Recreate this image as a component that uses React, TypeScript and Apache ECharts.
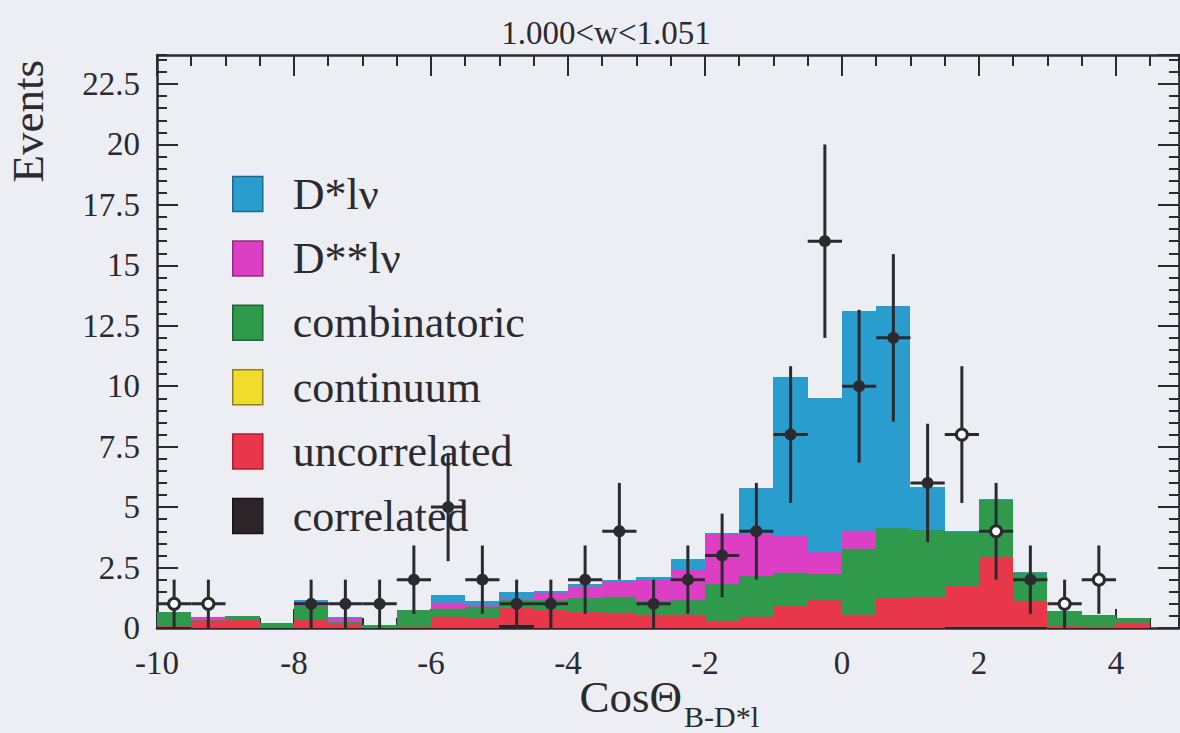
import React, { useEffect, useRef } from "react";
import * as echarts from "echarts";

// Histogram binning: 29 bins of width 0.5 from -10 to 4.5
const BIN_WIDTH = 0.5;
const BIN_CENTERS = [
  -9.75, -9.25, -8.75, -8.25, -7.75, -7.25, -6.75, -6.25, -5.75, -5.25,
  -4.75, -4.25, -3.75, -3.25, -2.75, -2.25, -1.75, -1.25, -0.75, -0.25,
  0.25, 0.75, 1.25, 1.75, 2.25, 2.75, 3.25, 3.75, 4.25,
];

// Stacked components (bottom to top)
const CORRELATED = [
  0.03, 0, 0, 0, 0, 0, 0, 0, 0, 0,
  0.12, 0, 0, 0, 0, 0, 0, 0, 0, 0,
  0, 0, 0, 0.03, 0.03, 0.03, 0, 0, 0,
];
const UNCORRELATED = [
  0.05, 0.3, 0.35, 0, 0.35, 0.15, 0, 0.05, 0.45, 0.4,
  0.7, 0.75, 0.65, 0.6, 0.55, 0.55, 0.3, 0.45, 0.9, 1.15,
  0.55, 1.25, 1.3, 1.7, 2.9, 1.1, 0.1, 0.05, 0.2,
];
const CONTINUUM = [
  0, 0, 0, 0, 0, 0, 0, 0, 0, 0,
  0, 0, 0, 0, 0, 0, 0, 0, 0, 0,
  0, 0, 0, 0, 0, 0, 0, 0, 0,
];
const COMBINATORIC = [
  0.6, 0.05, 0.15, 0.2, 0.55, 0.1, 0.12, 0.7, 0.35, 0.45,
  0.35, 0.4, 0.6, 0.7, 0.55, 0.6, 1.5, 1.7, 1.37, 1.1,
  2.7, 2.9, 2.75, 2.25, 2.35, 1.15, 0.6, 0.5, 0.2,
];
const DSS_LNU = [
  0, 0.1, 0, 0, 0.05, 0.15, 0, 0, 0.25, 0.1,
  0.05, 0.3, 0.45, 0.6, 0.9, 1.25, 2.1, 1.75, 1.52, 0.9,
  0.75, 0, 0, 0, 0, 0, 0, 0, 0,
];
const DS_LNU = [
  0, 0, 0, 0, 0.2, 0.05, 0, 0, 0.3, 0.15,
  0.25, 0.1, 0.1, 0.1, 0.1, 0.45, 0.05, 1.9, 6.61, 6.35,
  9.1, 9.15, 1.8, 0.05, 0.05, 0.05, 0, 0, 0,
];

// Data points (event counts); open markers drawn separately
const FILLED_X = [
  -7.75, -7.25, -6.75, -6.25, -5.75, -5.25, -4.75, -4.25, -3.75, -3.25,
  -2.75, -2.25, -1.75, -1.25, -0.75, -0.25, 0.25, 0.75, 1.25, 2.75,
];
const FILLED_N = [1, 1, 1, 2, 5, 2, 1, 1, 2, 4, 1, 2, 3, 4, 8, 16, 10, 12, 6, 2];
const OPEN_X = [-9.75, -9.25, 1.75, 2.25, 3.25, 3.75];
const OPEN_N = [1, 1, 8, 4, 1, 2];

// Axis ranges and titles
const X_MIN = -10;
const X_MAX = 4.92;
const Y_MIN = 0;
const Y_MAX = 23.7;

const TITLE = "1.000<w<1.051";
const Y_TITLE = "Events";
const X_TITLE = "CosΘ";
const X_TITLE_SUB = "B-D*l";

const FONT = '"Liberation Serif", "DejaVu Serif", serif';
const INK = "#2b2a2e";
const BG = "#eceef4";

const COMPONENTS = [
  { name: "correlated", values: CORRELATED, color: "#2c2427", edge: "#1a1416" },
  { name: "uncorrelated", values: UNCORRELATED, color: "#e8364b", edge: "#a8202f" },
  { name: "continuum", values: CONTINUUM, color: "#f0dc2c", edge: "#8f7f1c" },
  { name: "combinatoric", values: COMBINATORIC, color: "#2f9a4c", edge: "#1d6632" },
  { name: "D**lν", values: DSS_LNU, color: "#dc3fc4", edge: "#98297f" },
  { name: "D*lν", values: DS_LNU, color: "#2a9dcf", edge: "#1b6a8e" },
];
const LEGEND_ORDER = ["D*lν", "D**lν", "combinatoric", "continuum", "uncorrelated", "correlated"];

export default function App() {
  const ref = useRef<HTMLDivElement>(null);

  useEffect(() => {
    const chart = echarts.init(ref.current!, null, { renderer: "svg" });

    // cumulative stacking of the components
    const base = BIN_CENTERS.map(() => 0);
    const histSeries = COMPONENTS.map((c) => {
      const data = BIN_CENTERS.map((x, i) => {
        const lo = base[i];
        const hi = lo + c.values[i];
        base[i] = hi;
        return [x, lo, hi];
      });
      return {
        type: "custom",
        name: c.name,
        xAxisIndex: 0,
        yAxisIndex: 0,
        itemStyle: { color: c.color },
        clip: false,
        z: 2,
        encode: { x: 0, y: 2 },
        data,
        renderItem: (_p: any, api: any) => {
          const x = api.value(0);
          const lo = api.value(1);
          const hi = api.value(2);
          if (hi - lo <= 0.0001) return null;
          const a = api.coord([x - BIN_WIDTH / 2, hi]);
          const b = api.coord([x + BIN_WIDTH / 2, lo]);
          const x0 = Math.round(a[0]);
          const x1 = Math.round(b[0]);
          const y0 = Math.round(a[1]);
          const y1 = Math.round(b[1]);
          return {
            type: "rect",
            shape: { x: x0, y: y0, width: x1 - x0, height: Math.max(1, y1 - y0) },
            style: { fill: c.color },
          };
        },
      };
    });

    // Poisson errors on the counts
    const errData = [
      ...FILLED_X.map((x, i) => [x, FILLED_N[i], Math.sqrt(FILLED_N[i])]),
      ...OPEN_X.map((x, i) => [x, OPEN_N[i], Math.sqrt(OPEN_N[i])]),
    ];

    const errorSeries = {
      type: "custom",
      name: "errors",
      xAxisIndex: 0,
      yAxisIndex: 0,
      z: 5,
      clip: false,
      encode: { x: 0, y: 1 },
      data: errData,
      renderItem: (_p: any, api: any) => {
        const x = api.value(0);
        const y = api.value(1);
        const e = api.value(2);
        const top = api.coord([x, y + e]);
        const bot = api.coord([x, Math.max(0, y - e)]);
        const l = api.coord([x - BIN_WIDTH / 2, y]);
        const r = api.coord([x + BIN_WIDTH / 2, y]);
        return {
          type: "group",
          children: [
            {
              type: "line",
              shape: { x1: top[0], y1: top[1], x2: bot[0], y2: bot[1] },
              style: { stroke: INK, lineWidth: 3 },
            },
            {
              type: "line",
              shape: { x1: l[0], y1: l[1], x2: r[0], y2: r[1] },
              style: { stroke: INK, lineWidth: 3 },
            },
          ],
        };
      },
    };

    const filledSeries = {
      type: "scatter",
      name: "data",
      xAxisIndex: 0,
      yAxisIndex: 0,
      z: 6,
      symbol: "circle",
      symbolSize: 12,
      itemStyle: { color: INK, opacity: 1 },
      data: FILLED_X.map((x, i) => [x, FILLED_N[i]]),
    };
    const openSeries = {
      type: "scatter",
      name: "data (open)",
      xAxisIndex: 0,
      yAxisIndex: 0,
      z: 6,
      symbol: "circle",
      symbolSize: 11,
      itemStyle: { color: "#ffffff", borderColor: INK, borderWidth: 3, opacity: 1 },
      data: OPEN_X.map((x, i) => [x, OPEN_N[i]]),
    };

    const axisLine = { show: true, onZero: false, lineStyle: { color: INK, width: 2.5 } };
    const noLine = { show: false, onZero: false };
    const tick = (len: number) => ({ show: true, inside: true, length: len, lineStyle: { color: INK, width: 2 } });
    const label = { fontFamily: FONT, fontSize: 33, color: INK };

    const xBase = { type: "value", min: X_MIN, max: X_MAX, splitLine: { show: false } };
    const yBase = { type: "value", min: Y_MIN, max: Y_MAX, splitLine: { show: false } };

    const option: any = {
      animation: false,
      backgroundColor: BG,
      grid: { left: 157, right: 1, top: 55, bottom: 105, containLabel: false },
      xAxis: [
        {
          ...xBase,
          position: "bottom",
          interval: 2,
          axisLine,
          axisTick: tick(19),
          axisLabel: { ...label, margin: 18, showMaxLabel: false },
        },
        { ...xBase, position: "bottom", interval: 0.5, axisLine: noLine, axisTick: tick(10), axisLabel: { show: false } },
        { ...xBase, position: "top", interval: 2, axisLine, axisTick: tick(21), axisLabel: { show: false } },
        { ...xBase, position: "top", interval: 0.5, axisLine: noLine, axisTick: tick(11), axisLabel: { show: false } },
      ],
      yAxis: [
        {
          ...yBase,
          position: "left",
          interval: 2.5,
          axisLine,
          axisTick: tick(21),
          axisLabel: { ...label, margin: 17, showMaxLabel: false },
        },
        { ...yBase, position: "left", interval: 0.5, axisLine: noLine, axisTick: tick(10), axisLabel: { show: false } },
        { ...yBase, position: "right", interval: 2.5, axisLine, axisTick: tick(21), axisLabel: { show: false } },
        { ...yBase, position: "right", interval: 0.5, axisLine: noLine, axisTick: tick(10), axisLabel: { show: false } },
      ],
      legend: {
        data: LEGEND_ORDER.map((n) => {
          const c = COMPONENTS.find((k) => k.name === n)!;
          return { name: n, itemStyle: { borderColor: c.edge, borderWidth: 1.5 } };
        }),
        orient: "vertical",
        left: 227,
        top: 167,
        itemWidth: 30,
        itemHeight: 35,
        itemGap: 20.4,
        icon: "rect",
        selectedMode: false,
        textStyle: { fontFamily: FONT, fontSize: 44, color: INK, lineHeight: 35, padding: [0, 0, 0, 25] },
      },
      graphic: [
        {
          type: "text",
          x: 606,
          y: 33,
          style: { text: TITLE, font: `33px ${FONT}`, fill: INK, align: "center", verticalAlign: "middle" },
        },
        {
          type: "text",
          x: 28,
          y: 60,
          rotation: Math.PI / 2,
          style: { text: Y_TITLE, font: `45px ${FONT}`, fill: INK, align: "right", verticalAlign: "middle" },
        },
        {
          type: "text",
          x: 682,
          y: 697,
          style: { text: X_TITLE, font: `45px ${FONT}`, fill: INK, align: "right", verticalAlign: "middle" },
        },
        {
          type: "text",
          x: 684,
          y: 716,
          style: { text: X_TITLE_SUB, font: `30px ${FONT}`, fill: INK, align: "left", verticalAlign: "middle" },
        },
      ],
      series: [...histSeries, errorSeries, filledSeries, openSeries],
    };

    chart.setOption(option);
    return () => chart.dispose();
  }, []);

  return (
    <div
      ref={ref}
      style={{ position: "fixed", left: 0, top: 0, width: 1180, height: 733, background: BG }}
    />
  );
}
